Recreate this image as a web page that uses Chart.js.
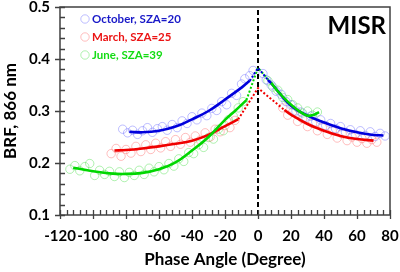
<!DOCTYPE html>
<html>
<head>
<meta charset="utf-8">
<script src="https://cdn.jsdelivr.net/npm/chart.js@4.4.1/dist/chart.umd.min.js"></script>
<style>
html,body{margin:0;padding:0;background:#fff;}
#wrap{width:400px;height:272px;}
</style>
</head>
<body>
<div id="wrap"><canvas id="c" width="400" height="272"></canvas></div>
<script>
// ---- data ----
const xTicks = [-120,-100,-80,-60,-40,-20,0,20,40,60,80];
const yTicks = [0.1,0.2,0.3,0.4,0.5];
const seriesNames = ["October, SZA=20","March, SZA=25","June, SZA=39"];

// October (blue) observations
const octX = [-82,-79,-76,-73,-70,-67,-64,-61,-58,-55,-52,-49,-46,-43,-40,-37,-34,-31,-28,-25,-22,-19,-16,-13,-10,-8,-5,-3,
              3,5,8,11,14,17,20,23,26,29,32,35,38,41,44,47,50,53,56,59,62,65,68,71,74,77];
const octY = [0.265,0.258,0.263,0.255,0.262,0.268,0.259,0.266,0.270,0.263,0.274,0.268,0.281,0.276,0.289,0.283,0.296,0.291,0.305,0.301,0.318,0.312,0.334,0.330,0.352,0.362,0.368,0.378,
              0.372,0.360,0.350,0.338,0.332,0.318,0.312,0.300,0.298,0.288,0.290,0.279,0.283,0.272,0.276,0.266,0.270,0.259,0.264,0.255,0.262,0.253,0.260,0.251,0.257,0.252];
// March (red) observations
const marX = [-89,-86,-83,-80,-77,-74,-71,-68,-65,-62,-59,-56,-53,-50,-47,-44,-41,-38,-35,-32,-29,-26,-23,-20,-17,-14,
              15,18,21,24,27,30,33,36,39,42,45,48,51,54,57,60,63,66,69,72];
const marY = [0.218,0.228,0.213,0.226,0.219,0.232,0.222,0.235,0.226,0.238,0.229,0.241,0.232,0.245,0.236,0.249,0.240,0.252,0.244,0.258,0.250,0.265,0.260,0.272,0.268,0.282,
              0.306,0.292,0.298,0.280,0.285,0.270,0.276,0.262,0.268,0.255,0.262,0.248,0.256,0.243,0.250,0.240,0.247,0.238,0.245,0.240];
// June (green) observations
const junX = [-114,-111,-108,-105,-102,-99,-96,-93,-90,-87,-84,-81,-78,-75,-72,-69,-66,-63,-60,-57,-54,-51,-48,-45,-42,-39,-36,-33,-30,-27,-24,-21,-18,-15,-12,-9,
              6,9,12,15,18,21,24,27,30,33,36];
const junY = [0.188,0.195,0.185,0.193,0.199,0.176,0.186,0.178,0.184,0.174,0.183,0.172,0.182,0.176,0.186,0.178,0.190,0.183,0.193,0.187,0.199,0.194,0.208,0.203,0.220,0.218,0.235,0.230,0.249,0.246,0.265,0.262,0.283,0.290,0.306,0.318,
              0.358,0.346,0.340,0.326,0.322,0.312,0.306,0.296,0.300,0.292,0.298];

// fitted curves
const octFitLX = [-78,-70,-60,-50,-40,-30,-20,-10,-5];
const octFitLY = [0.260,0.259,0.262,0.270,0.284,0.300,0.322,0.345,0.358];
const octFitRX = [6,10,20,30,40,50,60,70,76];
const octFitRY = [0.360,0.346,0.310,0.291,0.278,0.267,0.259,0.254,0.253];
const octDotX = [-5,0,6];
const octDotY = [0.358,0.383,0.360];

const marFitLX = [-87,-80,-70,-60,-50,-40,-30,-20,-12];
const marFitLY = [0.224,0.225,0.228,0.232,0.237,0.243,0.254,0.271,0.284];
const marFitRX = [16,20,30,40,50,60,70];
const marFitRY = [0.302,0.293,0.275,0.262,0.252,0.246,0.243];
const marDotX = [-12,0,16];
const marDotY = [0.284,0.344,0.302];

const junFitLX = [-112,-100,-90,-80,-70,-60,-50,-40,-30,-20,-14,-7];
const junFitLY = [0.191,0.184,0.180,0.179,0.181,0.188,0.201,0.224,0.250,0.283,0.300,0.321];
const junFitRX = [8,12,18,24,30,34,37];
const junFitRY = [0.354,0.338,0.318,0.302,0.291,0.293,0.298];
const junDotX = [-7,0,8];
const junDotY = [0.321,0.383,0.354];

// ---- styles ----
const lineCols = ["rgb(0,0,220)","rgb(240,0,0)","rgb(0,215,0)"];
const ptCols = ["rgba(110,110,255,0.45)","rgba(255,110,110,0.45)","rgba(80,225,80,0.45)"];
const txtCols = ["rgb(25,25,200)","rgb(235,20,20)","rgb(20,220,20)"];
const FONT = "Lato, 'Open Sans', sans-serif";

function pts(xs, ys){ return xs.map((x,i)=>({x:x, y:ys[i]})); }

function scatterDs(xs, ys, i){
  return {data:pts(xs,ys), showLine:false, pointRadius:4.2, pointBorderWidth:1,
    pointBackgroundColor:'rgba(0,0,0,0)', pointBorderColor:ptCols[i], order:5};
}
function fitDs(xs, ys, i){
  return {data:pts(xs,ys), showLine:true, pointRadius:0, borderColor:lineCols[i], borderWidth:2.6,
    tension:0.4, order:1};
}
function dotDs(xs, ys, i){
  return {data:pts(xs,ys), showLine:true, pointRadius:0, borderColor:lineCols[i], borderWidth:2,
    borderDash:[2,2], tension:0, order:2};
}

const datasets = [
  scatterDs(octX, octY, 0), scatterDs(marX, marY, 1), scatterDs(junX, junY, 2),
  {data:[{x:0,y:0.1},{x:0,y:0.5}], showLine:true, pointRadius:0, borderColor:'#000', borderWidth:2, borderDash:[5,3], order:3},
  dotDs(octDotX, octDotY, 0), dotDs(marDotX, marDotY, 1), dotDs(junDotX, junDotY, 2),
  fitDs(junFitLX, junFitLY, 2), fitDs(junFitRX, junFitRY, 2),
  fitDs(marFitLX, marFitLY, 1), fitDs(marFitRX, marFitRY, 1),
  fitDs(octFitLX, octFitLY, 0), fitDs(octFitRX, octFitRY, 0)
];

const decor = {
  id:'decor',
  afterDraw(chart){
    const ctx = chart.ctx, a = chart.chartArea, sx = chart.scales.x, sy = chart.scales.y;
    ctx.save();
    ctx.setLineDash([]);
    ctx.strokeStyle = '#404040';
    ctx.lineWidth = 1.5;
    ctx.strokeRect(a.left, a.top, a.right - a.left, a.bottom - a.top);
    ctx.lineWidth = 1.3;
    ctx.beginPath();
    // x ticks: major every 20, minor every 4
    for (let k = 0; k <= 50; k++) {
      const v = xTicks[0] + k * 4;
      const px = Math.round(sx.getPixelForValue(v)) + 0.5;
      const major = k % 5 === 0;
      ctx.moveTo(px, a.bottom + (major ? 4 : 0));
      ctx.lineTo(px, a.bottom - 5);
    }
    // y ticks: major every 0.1, minor every 0.02
    for (let k = 0; k <= 20; k++) {
      const v = yTicks[0] + k * 0.02;
      const py = Math.round(sy.getPixelForValue(v)) + 0.5;
      const major = k % 5 === 0;
      ctx.moveTo(a.left - (major ? 5 : 0), py);
      ctx.lineTo(a.left + 5, py);
    }
    ctx.stroke();

    // legend
    const ly = [19, 37, 55];
    ctx.font = "bold 11.5px " + FONT;
    ctx.textBaseline = 'middle';
    ctx.textAlign = 'left';
    for (let i = 0; i < 3; i++) {
      ctx.beginPath();
      ctx.strokeStyle = ptCols[i];
      ctx.lineWidth = 1;
      ctx.arc(85, ly[i], 4.2, 0, Math.PI*2);
      ctx.stroke();
      ctx.fillStyle = txtCols[i];
      ctx.fillText(seriesNames[i], 92, ly[i]);
    }
    // MISR label
    ctx.font = "bold 24px " + FONT;
    ctx.fillStyle = '#000';
    ctx.textAlign = 'right';
    ctx.fillText("MISR", 386, 26);
    ctx.restore();
  }
};

new Chart(document.getElementById('c'), {
  type:'scatter',
  data:{datasets:datasets},
  plugins:[decor],
  options:{
    responsive:false, animation:false, devicePixelRatio:1,
    layout:{padding:{top:7, right:10, left:0, bottom:0}},
    plugins:{legend:{display:false}, tooltip:{enabled:false}},
    scales:{
      x:{type:'linear', min:-120, max:80,
        afterBuildTicks(s){ s.ticks = xTicks.map(v=>({value:v})); },
        afterFit(s){ s.height = 57; s.paddingLeft = 0; s.paddingRight = 0; },
        grid:{display:false, drawTicks:false}, border:{display:false},
        ticks:{padding:12, color:'#000', font:{family:FONT, size:15, weight:'bold'}, maxRotation:0, autoSkip:false,
          callback:(v)=>String(v)},
        title:{display:true, text:'Phase Angle (Degree)', color:'#000', font:{family:FONT, size:17, weight:'bold'}, padding:{top:0,bottom:2}}
      },
      y:{type:'linear', min:0.1, max:0.5,
        afterBuildTicks(s){ s.ticks = yTicks.map(v=>({value:v})); },
        afterFit(s){ s.width = 60; s.paddingTop = 0; s.paddingBottom = 0; },
        grid:{display:false, drawTicks:false}, border:{display:false},
        ticks:{padding:10, color:'#000', font:{family:FONT, size:15, weight:'bold'}, callback:(v)=>Number(v).toFixed(1)},
        title:{display:true, text:'BRF, 866 nm', color:'#000', font:{family:FONT, size:17, weight:'bold'}, padding:{top:0,bottom:0}}
      }
    }
  }
});
</script>
</body>
</html>
